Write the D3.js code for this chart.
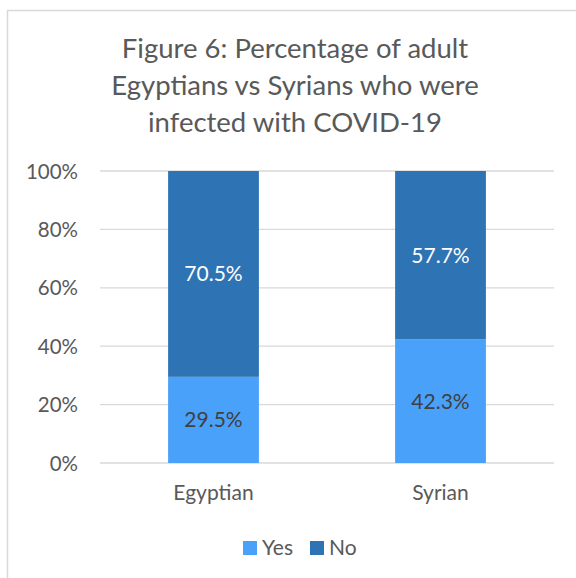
<!DOCTYPE html>
<html><head><meta charset="utf-8">
<script src="https://cdn.jsdelivr.net/npm/d3@7"></script>
<style>body{margin:0;background:#fff;} svg{display:block;} text{font-family:Lato,"Open Sans",sans-serif;}</style>
</head><body>
<script>
const categories = ["Egyptian", "Syrian"];
const seriesNames = ["Yes", "No"];
const yesValues = [29.5, 42.3];
const noValues = [70.5, 57.7];
const yTicks = [0, 20, 40, 60, 80, 100];
const titleLines = ["Figure 6: Percentage of adult", "Egyptians vs Syrians who were", "infected with COVID-19"];
const colors = {Yes: "#4aa1f9", No: "#2e74b5"};

const W = 576, H = 578;
const svg = d3.select("body").append("svg").attr("width", W).attr("height", H);
svg.append("rect").attr("x", 7.5).attr("y", 10.5).attr("width", 600).attr("height", 600)
  .attr("fill", "#fff").attr("stroke", "#d9d9d9").attr("stroke-width", 1.5);

const x = d3.scaleBand().domain(categories).range([100, 554]).paddingInner(0.6).paddingOuter(0.3);
const y = d3.scaleLinear().domain([0, 100]).range([463, 171]);

svg.append("g").selectAll("text").data(titleLines).join("text")
  .attr("x", 295).attr("y", (d, i) => 57.5 + i * 37).attr("text-anchor", "middle")
  .attr("font-size", 27.5).attr("fill", "#595959").text(d => d);

// grid
svg.append("g").selectAll("line").data(yTicks).join("line")
  .attr("x1", 100).attr("x2", 554).attr("y1", d => y(d)).attr("y2", d => y(d))
  .attr("stroke", "#d9d9d9").attr("stroke-width", 1.3);

const yAxis = svg.append("g").attr("transform", "translate(78,0)")
  .call(d3.axisLeft(y).tickValues(yTicks).tickFormat(d => d + "%").tickSize(0).tickPadding(0));
yAxis.select(".domain").remove();
yAxis.selectAll("text").attr("font-size", 20.5).attr("fill", "#595959").attr("font-family", "Lato").attr("dy", "0.35em");

const data = categories.map((c, i) => ({cat: c, Yes: yesValues[i], No: noValues[i]}));
const stack = d3.stack().keys(seriesNames)(data);

const g = svg.append("g");
stack.forEach(s => {
  g.append("g").selectAll("rect").data(s).join("rect")
    .attr("x", d => x(d.data.cat)).attr("width", x.bandwidth())
    .attr("y", d => y(d[1])).attr("height", d => y(d[0]) - y(d[1]))
    .attr("fill", colors[s.key]);
  g.append("g").selectAll("text").data(s).join("text")
    .attr("x", d => x(d.data.cat) + x.bandwidth() / 2)
    .attr("y", d => (y(d[0]) + y(d[1])) / 2).attr("dy", "0.35em")
    .attr("text-anchor", "middle").attr("font-size", 21)
    .attr("fill", s.key === "No" ? "#ffffff" : "#404040")
    .text(d => (d[1] - d[0]).toFixed(1) + "%");
});

const xAxis = svg.append("g").attr("transform", "translate(0,463)")
  .call(d3.axisBottom(x).tickSize(0).tickPadding(0));
xAxis.select(".domain").remove();
xAxis.selectAll("text").attr("font-size", 21).attr("fill", "#595959").attr("font-family", "Lato")
  .attr("dy", null).attr("y", 37);

// legend
const legend = svg.append("g");
const legendItems = [{k: "Yes", x: 243}, {k: "No", x: 310}];
legendItems.forEach(it => {
  legend.append("rect").attr("x", it.x).attr("y", 541).attr("width", 14).attr("height", 14).attr("fill", colors[it.k]);
  legend.append("text").attr("x", it.x + 19).attr("y", 548).attr("dy", "0.35em")
    .attr("font-size", 21).attr("fill", "#595959").text(it.k);
});
</script>
</body></html>
